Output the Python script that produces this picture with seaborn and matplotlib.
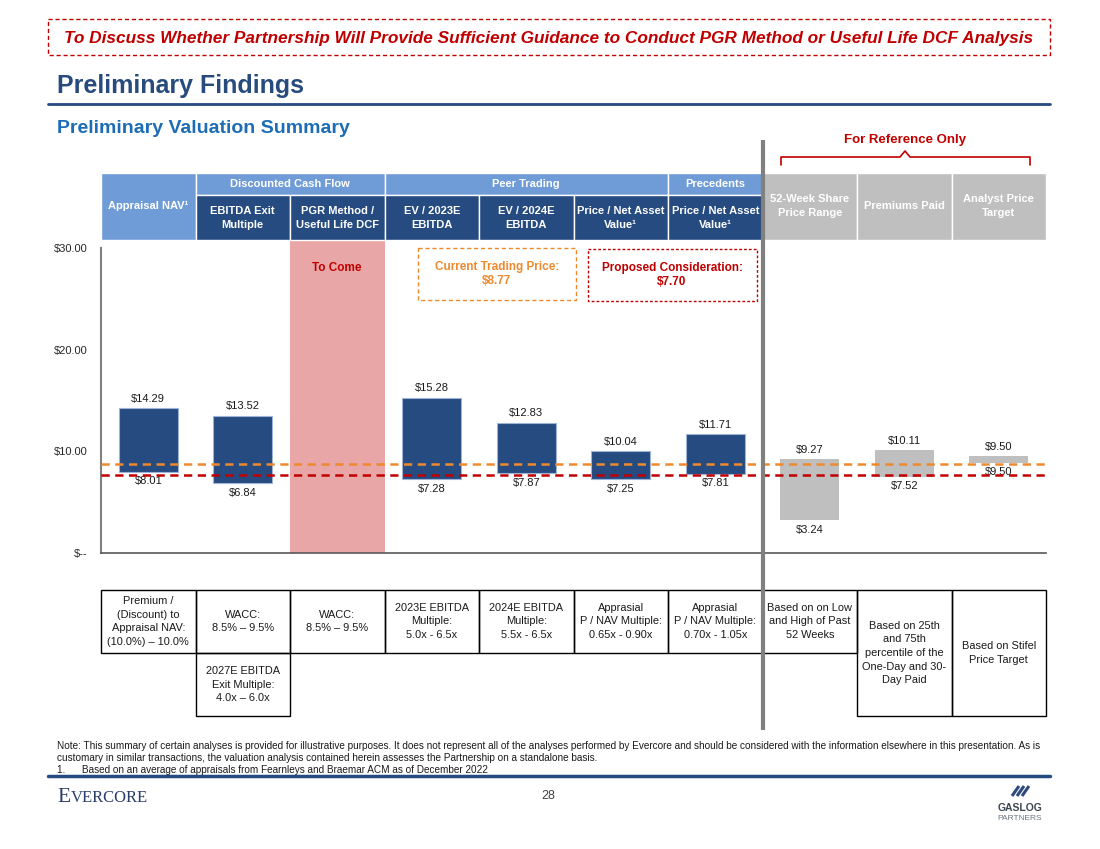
import numpy as np
import pandas as pd
import matplotlib
matplotlib.use("Agg")
import matplotlib.pyplot as plt
from matplotlib.patches import Rectangle
from matplotlib.ticker import FuncFormatter
import seaborn as sns

# ---------------- data ----------------
methods = ["Appraisal NAV", "EBITDA Exit Multiple", "PGR Method / Useful Life DCF",
           "EV / 2023E EBITDA", "EV / 2024E EBITDA", "P/NAV Peer", "P/NAV Precedents",
           "52-Week Share Price Range", "Premiums Paid", "Analyst Price Target"]
low_values = [8.01, 6.84, np.nan, 7.28, 7.87, 7.25, 7.81, 3.24, 7.52, 9.50]
high_values = [14.29, 13.52, np.nan, 15.28, 12.83, 10.04, 11.71, 9.27, 10.11, 9.50]
method_kind = ["valuation"] * 7 + ["reference"] * 3
current_price = 8.77
proposed_consideration = 7.70
y_ticks = [0, 10, 20, 30]

header_groups = [("Discounted Cash Flow", 1, 2), ("Peer Trading", 3, 5), ("Precedents", 6, 6)]
header_labels = ["Appraisal NAV¹", "EBITDA Exit\nMultiple", "PGR Method /\nUseful Life DCF",
                 "EV / 2023E\nEBITDA", "EV / 2024E\nEBITDA", "Price / Net Asset\nValue¹",
                 "Price / Net Asset\nValue¹", "52-Week Share\nPrice Range", "Premiums Paid",
                 "Analyst Price\nTarget"]
footer_row1 = ["Premium /\n(Discount) to\nAppraisal NAV:\n(10.0%) – 10.0%",
               "WACC:\n8.5% – 9.5%", "WACC:\n8.5% – 9.5%",
               "2023E EBITDA\nMultiple:\n5.0x - 6.5x", "2024E EBITDA\nMultiple:\n5.5x - 6.5x",
               "Apprasial\nP / NAV Multiple:\n0.65x - 0.90x",
               "Apprasial\nP / NAV Multiple:\n0.70x - 1.05x",
               "Based on on Low\nand High of Past\n52 Weeks",
               "Based on 25th\nand 75th\npercentile of the\nOne-Day and 30-\nDay Paid",
               "Based on Stifel\nPrice Target"]
footer_row2 = {1: "2027E EBITDA\nExit Multiple:\n4.0x – 6.0x"}

banner_text = "To Discuss Whether Partnership Will Provide Sufficient Guidance to Conduct PGR Method or Useful Life DCF Analysis"
note_lines = ["Note: This summary of certain analyses is provided for illustrative purposes. It does not represent all of the analyses performed by Evercore and should be considered with the information elsewhere in this presentation. As is",
              "customary in similar transactions, the valuation analysis contained herein assesses the Partnership on a standalone basis.",
              "1.      Based on an average of appraisals from Fearnleys and Braemar ACM as of December 2022"]

# ---------------- style ----------------
navy = "#264B80"
light_blue = "#6F9BD6"
grey_bar = "#BFBFBF"
red = "#C00000"
orange = "#EE8A2E"

sns.set_style("white")
plt.rcParams["font.family"] = ["Liberation Sans", "DejaVu Sans"]

fig = plt.figure(figsize=(11, 8.49), dpi=100)
W, H = 1100, 849
x0, col_w = 101, 94.5


def col_x(i):
    return x0 + i * col_w


ax = fig.add_axes([x0 / W, 1 - 553 / H, 10 * col_w / W, 305 / H])
ax.patch.set_alpha(0)

df = pd.DataFrame({"method": methods, "low": low_values, "high": high_values, "kind": method_kind})
sns.barplot(data=df, x="method", y="high", hue="kind", order=methods,
            palette={"valuation": navy, "reference": grey_bar}, dodge=False, saturation=1,
            width=0.62, legend=False, ax=ax, zorder=2)

# turn the bars into floating low-high ranges
for p in ax.patches:
    i = int(round(p.get_x() + p.get_width() / 2))
    lo, hi = low_values[i], high_values[i]
    bottom = lo if hi - lo > 0.3 else hi - 0.6
    p.set_y(bottom)
    p.set_height(hi - bottom)
    if method_kind[i] == "valuation":
        p.set_edgecolor("#9DB3D8")
        p.set_linewidth(0.8)
    else:
        p.set_linewidth(0)
    ax.annotate(f"${hi:.2f}", (i, hi), xytext=(0, 3), textcoords="offset points",
                ha="center", va="bottom", fontsize=8, color="#1a1a1a")
    ax.annotate(f"${lo:.2f}", (i, bottom), xytext=(0, -3.5), textcoords="offset points",
                ha="center", va="top", fontsize=8, color="#1a1a1a")

ax.axvspan(1.5, 2.5, ymin=0, ymax=1 + 8 / 305, color="#E8A6A6", zorder=0, clip_on=False, lw=0)
ax.axhline(current_price, color=orange, ls=(0, (3.3, 2.2)), lw=1.8, zorder=4)
ax.axhline(proposed_consideration, color=red, ls=(0, (3.3, 2.2)), lw=1.8, zorder=4)

ax.set_xlim(-0.5, 9.5)
ax.set_ylim(0, 30)
ax.set_yticks(y_ticks)
ax.yaxis.set_major_formatter(FuncFormatter(lambda v, _: "$--" if v == 0 else f"${v:.2f}"))
ax.set_xticks(np.arange(-0.5, 10, 1))
ax.set_xticklabels([])
ax.set_xlabel("")
ax.set_ylabel("")
ax.tick_params(axis="y", length=3, width=1, color="#808080", labelsize=8, labelcolor="#262626", pad=7)
ax.tick_params(axis="x", length=4, width=1, color="#595959", direction="out")
sns.despine(ax=ax)
ax.spines["left"].set_color("#808080")
ax.spines["left"].set_linewidth(1.5)
ax.spines["bottom"].set_color("#595959")
ax.spines["bottom"].set_linewidth(1.2)

# ---------------- overlay in pixel coordinates ----------------
ov = fig.add_axes([0, 0, 1, 1], zorder=5)
ov.set_xlim(0, W)
ov.set_ylim(H, 0)
ov.axis("off")
ov.patch.set_alpha(0)

# banner
ov.add_patch(Rectangle((48, 19), 1002, 36, fill=False, ec=red, lw=1, ls=(0, (3, 2))))
ov.text(549, 38, banner_text, ha="center", va="center", color=red, fontsize=12.4,
        fontweight="bold", fontstyle="italic")

ov.text(57, 86, "Preliminary Findings", ha="left", va="center", color="#284B7E",
        fontsize=18, fontweight="bold")
ov.plot([48, 1050], [104, 104], color=navy, lw=2)
ov.text(57, 128, "Preliminary Valuation Summary", ha="left", va="center", color="#1C6DB5",
        fontsize=14, fontweight="bold")

# for reference bracket
ov.text(905, 140, "For Reference Only", ha="center", va="center", color=red, fontsize=9.5,
        fontweight="bold")
ov.plot([781, 781, 900, 905, 910, 1030, 1030], [165, 157, 157, 151, 157, 157, 165],
        color=red, lw=1.2)

# header cells
hdr_kw = dict(ha="center", va="center", color="white", fontsize=8, fontweight="bold",
              linespacing=1.5)
ov.add_patch(Rectangle((col_x(0), 173), col_w, 67, fc=light_blue, ec="white", lw=1))
ov.text(col_x(0) + col_w / 2, 206, header_labels[0], **hdr_kw)
for name, a, b in header_groups:
    ov.add_patch(Rectangle((col_x(a), 173), (b - a + 1) * col_w, 22, fc=light_blue, ec="white", lw=1))
    ov.text((col_x(a) + col_x(b + 1)) / 2, 184, name, **hdr_kw)
for i in range(1, 7):
    ov.add_patch(Rectangle((col_x(i), 195), col_w, 45, fc=navy, ec="white", lw=1))
    ov.text(col_x(i) + col_w / 2, 217.5, header_labels[i], **hdr_kw)
for i in range(7, 10):
    ov.add_patch(Rectangle((col_x(i), 173), col_w, 67, fc=grey_bar, ec="white", lw=1))
    ov.text(col_x(i) + col_w / 2, 206, header_labels[i], **hdr_kw)

# text boxes in plot
ov.add_patch(Rectangle((418, 248), 158, 52, fill=False, ec=orange, lw=1, ls=(0, (3, 2))))
ov.text(497, 274, "Current Trading Price:\n$8.77", ha="center", va="center", color=orange,
        fontsize=8.5, fontweight="bold", linespacing=1.15)
ov.add_patch(Rectangle((588, 249), 169, 52, fill=False, ec=red, lw=1, ls=(0, (2, 1.5))))
ov.text(672, 275, "Proposed Consideration:\n$7.70", ha="center", va="center", color=red,
        fontsize=8.5, fontweight="bold", linespacing=1.15)
ov.text(col_x(2) + col_w / 2, 268, "To Come", ha="center", va="center", color=red,
        fontsize=8.5, fontweight="bold")

# bottom table
cell_kw = dict(ha="center", va="center", color="#1a1a1a", fontsize=7.9, linespacing=1.45)
for i, txt in enumerate(footer_row1):
    h = 126 if i >= 8 else 63
    ov.add_patch(Rectangle((col_x(i), 590), col_w, h, fill=False, ec="black", lw=1))
    ov.text(col_x(i) + col_w / 2, 590 + h / 2, txt, **cell_kw)
for i, txt in footer_row2.items():
    ov.add_patch(Rectangle((col_x(i), 653), col_w, 63, fill=False, ec="black", lw=1))
    ov.text(col_x(i) + col_w / 2, 684.5, txt, **cell_kw)

# separator between valuation and reference sections
ov.plot([763, 763], [140, 730], color="#808080", lw=3, solid_capstyle="butt")

# footnote
for k, line in enumerate(note_lines):
    ov.text(57, 746 + 12 * k, line, ha="left", va="center", fontsize=7.2, color="#1a1a1a")
ov.plot([48, 1050], [776, 776], color=navy, lw=2.5)

# footer logos
ov.text(57, 797, "E", ha="left", va="center", fontsize=15.5, color="#2B3E6B",
        family="Liberation Serif")
ov.text(71, 798.5, "VERCORE", ha="left", va="center", fontsize=12, color="#2B3E6B",
        family="Liberation Serif")
ov.text(548, 796, "28", ha="center", va="center", fontsize=9, color="#404040")
for dx in (0, 5, 10):
    ov.plot([1012 + dx, 1019 + dx], [796, 786], color="#2E4A7A", lw=2.2, solid_capstyle="butt")
ov.text(1020, 808, "GASLOG", ha="center", va="center", fontsize=7.5, fontweight="bold", color="#3C4650")
ov.text(1020, 818, "PARTNERS", ha="center", va="center", fontsize=6, color="#6D7680")

fig.savefig("out.png", dpi=100)
